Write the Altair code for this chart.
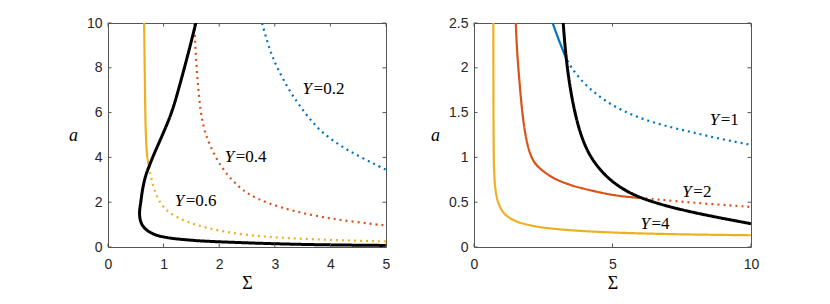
import altair as alt
import pandas as pd

# ---------------- Left panel: Sigma 0..5, a 0..10 ----------------
L_Y02_DOT_S = [2.77, 2.90, 3.03, 3.27, 3.55, 3.81, 4.17, 4.58, 5.00]
L_Y02_DOT_A = [10.0, 8.85, 8.05, 6.92, 5.95, 5.18, 4.52, 3.96, 3.45]

L_Y04_DOT_S = [1.55, 1.59, 1.66, 1.75, 1.93, 2.13, 2.37, 2.55, 2.85, 3.33, 3.87, 4.40, 5.00]
L_Y04_DOT_A = [10.0, 8.00, 6.00, 5.00, 4.00, 3.24, 2.64, 2.32, 1.97, 1.60, 1.32, 1.13, 0.96]

L_Y06_SOL_S = [0.65, 0.66, 0.67, 0.68, 0.70, 0.74]
L_Y06_SOL_A = [10.0, 8.00, 6.00, 5.00, 4.00, 3.60]
L_Y06_DOT_S = [0.74, 0.76, 0.83, 0.92, 1.09, 1.38, 1.77, 2.22, 2.79, 3.39, 4.29, 5.00]
L_Y06_DOT_A = [3.60, 3.24, 2.57, 2.00, 1.52, 1.15, 0.85, 0.62, 0.46, 0.37, 0.29, 0.25]

L_BLK_S = [1.58, 1.48, 1.375, 1.265, 1.15, 0.98, 0.80, 0.74, 0.68, 0.62, 0.59, 0.57, 0.565,
           0.58, 0.63, 0.72, 0.82, 0.93, 1.10, 1.35, 1.70, 2.24, 3.00, 4.00, 5.00]
L_BLK_A = [10.0, 9.00, 8.00, 7.00, 6.00, 5.00, 4.00, 3.60, 3.24, 2.60, 2.00, 1.70, 1.45,
           1.15, 0.90, 0.70, 0.57, 0.48, 0.40, 0.33, 0.26, 0.21, 0.14, 0.09, 0.07]

L_LBL_S = [3.50, 2.10, 1.20]
L_LBL_A = [7.04, 4.04, 2.04]
L_LBL_T = ["=0.2", "=0.4", "=0.6"]

L_XTICKS = [0, 1, 2, 3, 4, 5]
L_YTICKS = [0, 2, 4, 6, 8, 10]

# ---------------- Right panel: Sigma 0..10, a 0..2.5 ----------------
R_Y1_SOL_S = [2.84, 3.00, 3.14, 3.28]
R_Y1_SOL_A = [2.50, 2.36, 2.25, 2.14]
R_Y1_DOT_S = [3.28, 3.46, 3.94, 4.48, 5.02, 6.10, 7.18, 8.15, 8.99, 10.0]
R_Y1_DOT_A = [2.14, 2.02, 1.83, 1.69, 1.57, 1.42, 1.33, 1.26, 1.20, 1.14]

R_Y2_SOL_S = [1.51, 1.54, 1.60, 1.68, 1.76, 1.86, 1.97, 2.10, 2.26, 2.44, 2.70, 2.98, 3.40, 3.82, 4.66, 5.26, 5.98]
R_Y2_SOL_A = [2.50, 2.25, 2.00, 1.70, 1.45, 1.24, 1.09, 0.98, 0.91, 0.86, 0.80, 0.75, 0.70, 0.66, 0.60, 0.567, 0.548]
R_Y2_DOT_S = [5.98, 7.31, 8.51, 10.0]
R_Y2_DOT_A = [0.548, 0.511, 0.480, 0.447]

R_Y4_SOL_S = [0.70, 0.70, 0.71, 0.72, 0.75, 0.79, 0.84, 0.90, 1.00, 1.12, 1.30, 1.55, 1.78, 2.20, 2.62, 3.70, 5.24, 7.50, 10.0]
R_Y4_SOL_A = [2.50, 1.60, 1.10, 0.87, 0.70, 0.60, 0.53, 0.47, 0.41, 0.36, 0.32, 0.28, 0.26, 0.23, 0.21, 0.18, 0.157, 0.140, 0.131]

R_BLK_S = [3.22, 3.31, 3.44, 3.62, 3.85, 4.15, 4.50, 4.90, 5.40, 5.98, 6.95, 8.27, 10.0]
R_BLK_A = [2.50, 2.14, 1.83, 1.52, 1.25, 1.03, 0.88, 0.75, 0.64, 0.55, 0.455, 0.36, 0.26]

R_LBL_S = [8.51, 7.52, 6.01]
R_LBL_A = [1.417, 0.612, 0.26]
R_LBL_T = ["=1", "=2", "=4"]

R_XTICKS = [0, 5, 10]
R_YTICKS = [0, 0.5, 1, 1.5, 2, 2.5]

# ---------------- styling ----------------
CURVES = ["blue", "red", "yellow", "boundary"]
COLORS = ["#0072BD", "#D95319", "#EDB120", "#000000"]
SERIF = "Liberation Serif"
SANS = "Liberation Sans"
FRAME = "#555555"
TL = 3.5
H = 224


def make_df(segments):
    rows = []
    for seg_id, (curve, style, S, A) in enumerate(segments):
        for i, (s, a) in enumerate(zip(S, A)):
            rows.append(dict(seg=seg_id, curve=curve, style=style, S=s, A=a, ord=i))
    return pd.DataFrame(rows)


def panel(df, xdom, ydom, xt, yt, lbl_s, lbl_a, lbl_t, W, yfmt):
    xenc = alt.X("S:Q", scale=alt.Scale(domain=xdom, nice=False, zero=False),
                 axis=alt.Axis(values=xt, title="Σ", format="d", labelFlush=False,
                               labelOverlap=False, labelPadding=10, titlePadding=3,
                               titleFontStyle="normal"))
    yenc = alt.Y("A:Q", scale=alt.Scale(domain=ydom, nice=False, zero=False),
                 axis=alt.Axis(values=yt, title="a", format=yfmt, titleAngle=0,
                               titleAlign="right", titleBaseline="middle",
                               titleFontStyle="italic", titlePadding=9,
                               labelPadding=6, labelOverlap=False))
    lines = alt.Chart(df).mark_line(interpolate="basis", clip=True).encode(
        x=xenc, y=yenc,
        color=alt.Color("curve:N", scale=alt.Scale(domain=CURVES, range=COLORS), legend=None),
        strokeDash=alt.StrokeDash("style:N", scale=alt.Scale(domain=["solid", "dotted"],
                                                             range=[[1, 0], [2, 4]]), legend=None),
        strokeWidth=alt.condition(alt.datum.curve == "boundary", alt.value(3), alt.value(2.2)),
        detail="seg:N",
        order="ord:Q",
    )
    xtdf = pd.DataFrame({"S": xt})
    ytdf = pd.DataFrame({"A": yt})
    tb = alt.Chart(xtdf).mark_rule(color=FRAME, strokeWidth=1).encode(
        x=xenc, y=alt.value(H), y2=alt.value(H - TL))
    tt = alt.Chart(xtdf).mark_rule(color=FRAME, strokeWidth=1).encode(
        x=xenc, y=alt.value(0), y2=alt.value(TL))
    tl = alt.Chart(ytdf).mark_rule(color=FRAME, strokeWidth=1).encode(
        y=yenc, x=alt.value(0), x2=alt.value(TL))
    tr = alt.Chart(ytdf).mark_rule(color=FRAME, strokeWidth=1).encode(
        y=yenc, x=alt.value(W), x2=alt.value(W - TL))
    ldf = pd.DataFrame({"S": lbl_s, "A": lbl_a, "rest": lbl_t})
    t1 = alt.Chart(ldf).mark_text(text="Y", font=SERIF, fontSize=17, fontStyle="italic",
                                  align="left", baseline="middle", color="#000000").encode(
        x=xenc, y=yenc)
    t2 = alt.Chart(ldf).mark_text(font=SERIF, fontSize=17, align="left", baseline="middle",
                                  dx=11, color="#000000").encode(
        x=xenc, y=yenc, text="rest:N")
    return alt.layer(lines, tb, tt, tl, tr, t1, t2).properties(width=W, height=H)


left_df = make_df([
    ("blue", "dotted", L_Y02_DOT_S, L_Y02_DOT_A),
    ("red", "dotted", L_Y04_DOT_S, L_Y04_DOT_A),
    ("yellow", "solid", L_Y06_SOL_S, L_Y06_SOL_A),
    ("yellow", "dotted", L_Y06_DOT_S, L_Y06_DOT_A),
    ("boundary", "solid", L_BLK_S, L_BLK_A),
])
right_df = make_df([
    ("blue", "solid", R_Y1_SOL_S, R_Y1_SOL_A),
    ("blue", "dotted", R_Y1_DOT_S, R_Y1_DOT_A),
    ("red", "solid", R_Y2_SOL_S, R_Y2_SOL_A),
    ("red", "dotted", R_Y2_DOT_S, R_Y2_DOT_A),
    ("yellow", "solid", R_Y4_SOL_S, R_Y4_SOL_A),
    ("boundary", "solid", R_BLK_S, R_BLK_A),
])

left = panel(left_df, [0, 5], [0, 10], L_XTICKS, L_YTICKS, L_LBL_S, L_LBL_A, L_LBL_T, 278, "d")
right = panel(right_df, [0, 10], [0, 2.5], R_XTICKS, R_YTICKS, R_LBL_S, R_LBL_A, R_LBL_T, 277, "~g")

chart = alt.hconcat(left, right, spacing=39).properties(
    padding={"left": 59, "top": 7, "right": 5, "bottom": 5},
    background="white",
).configure_view(
    stroke=FRAME, strokeWidth=1
).configure_axis(
    domain=False, ticks=False, grid=False,
    labelFont=SANS, labelFontSize=14, labelColor="#262626",
    titleFont=SERIF, titleFontSize=18, titleColor="#000000", titleFontWeight="normal",
)

chart.save("out.html", embed_options={"renderer": "svg", "actions": False})
